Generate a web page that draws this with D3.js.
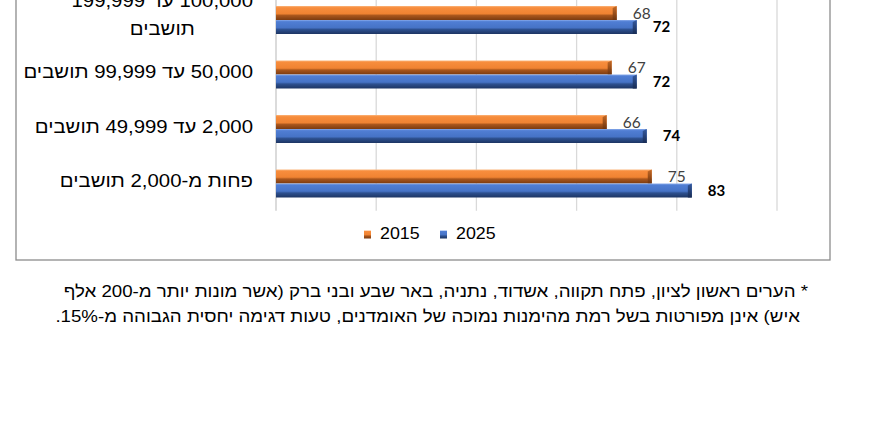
<!DOCTYPE html>
<html><head><meta charset="utf-8">
<script src="https://cdn.jsdelivr.net/npm/d3@7"></script>
<style>
html,body{margin:0;padding:0;background:#fff;}
svg{display:block;}
</style></head>
<body>
<svg id="chart" width="870" height="423"></svg>
<script>
// ---- data ----
const categories = [
  ["100,000 עד 199,999", "תושבים"],
  ["50,000 עד 99,999 תושבים"],
  ["2,000 עד 49,999 תושבים"],
  ["פחות מ-2,000 תושבים"]
];
const years = ["2015", "2025"];
const values2015 = [68, 67, 66, 75];
const values2025 = [72, 72, 74, 83];
const xTicks = [0, 20, 40, 60, 80, 100];
const footnote = [
  "* הערים ראשון לציון, פתח תקווה, אשדוד, נתניה, באר שבע ובני ברק (אשר מונות יותר מ-200 אלף",
  "איש) אינן מפורטות בשל רמת מהימנות נמוכה של האומדנים, טעות דגימה יחסית הגבוהה מ-15%."
];

const svg = d3.select("#chart");
const defs = svg.append("defs");
const grads = {
  "2015": [["0%","#fbb57c"],["12%","#f78d3d"],["55%","#f08332"],["68%","#a9561c"],["100%","#7c3b10"]],
  "2025": [["0%","#88aaea"],["12%","#507ed4"],["55%","#4673c6"],["68%","#2d508f"],["100%","#1d3563"]]
};
Object.entries(grads).forEach(([k, stops]) => {
  const g = defs.append("linearGradient").attr("id","g"+k).attr("x1",0).attr("y1",0).attr("x2",0).attr("y2",1);
  stops.forEach(s => g.append("stop").attr("offset", s[0]).attr("stop-color", s[1]));
});
const caps = {"2015":["#c56a26","#6e340e"], "2025":["#34599e","#182c55"]};
Object.entries(caps).forEach(([k, c]) => {
  const g = defs.append("linearGradient").attr("id","c"+k).attr("x1",0).attr("y1",0).attr("x2",0).attr("y2",1);
  g.append("stop").attr("offset","0%").attr("stop-color",c[0]);
  g.append("stop").attr("offset","100%").attr("stop-color",c[1]);
});

const x = d3.scaleLinear().domain([0, 100]).range([276, 777]);
const catKeys = categories.map(c => c.join(" "));
const y = d3.scaleBand().domain(catKeys).range([-7.25, 210.75]).padding(0);
const barH = 14;
const ySub = d3.scaleBand().domain(years)
  .range([y.bandwidth()/2 - barH, y.bandwidth()/2 + barH]);

// frame
svg.append("rect").attr("x", 16).attr("y", -5).attr("width", 814).attr("height", 265)
  .attr("fill", "none").attr("stroke", "#8c8c8c").attr("stroke-width", 1.3);

// gridlines
svg.append("g").selectAll("line").data(xTicks).join("line")
  .attr("x1", d => x(d)).attr("x2", d => x(d))
  .attr("y1", -10).attr("y2", 210.75)
  .attr("stroke", d => d === 0 ? "#c8c8c8" : "#d9d9d9").attr("stroke-width", 1.3);

// bars
const series = [
  {year: "2015", vals: values2015},
  {year: "2025", vals: values2025}
];
series.forEach(s => {
  const g = svg.append("g");
  s.vals.forEach((v, i) => {
    const y0 = y(catKeys[i]) + ySub(s.year);
    g.append("rect").attr("x", x(0)).attr("y", y0)
      .attr("width", x(v) - x(0)).attr("height", ySub.bandwidth())
      .attr("fill", "url(#g" + s.year + ")");
    g.append("path")
      .attr("d", `M${x(v)-4},${y0+2}L${x(v)},${y0}L${x(v)},${y0+ySub.bandwidth()}L${x(v)-4},${y0+ySub.bandwidth()}Z`)
      .attr("fill", "url(#c" + s.year + ")");
    g.append("text")
      .attr("x", x(v) + 16)
      .attr("y", y0 + ySub.bandwidth()/2)
      .attr("dy", "0.36em")
      .attr("font-family", "Lato, 'Open Sans', sans-serif")
      .attr("font-size", s.year === "2015" ? 15.5 : 15)
      .attr("font-weight", s.year === "2015" ? "normal" : "bold")
      .attr("fill", s.year === "2015" ? "#404040" : "#000")
      .text(v);
  });
});

// category labels (slightly widened, as in the reference)
const labelRight = 253;
const stretch = 1.1;
categories.forEach((lines, i) => {
  const cy = y(catKeys[i]) + y.bandwidth()/2;
  const g = svg.append("g").attr("transform", `translate(${labelRight},0) scale(${stretch},1)`);
  const t = g.append("text")
    .attr("font-family", "'Liberation Sans', Arial, sans-serif")
    .attr("font-size", 18.5).attr("fill", "#000")
    .attr("direction", "rtl").style("unicode-bidi", "embed");
  if (lines.length === 1) {
    t.attr("x", 0).attr("y", cy + 4).attr("text-anchor", "start").text(lines[0]);
  } else {
    const spans = lines.map((ln, j) => t.append("tspan").attr("y", cy - 13 + j * 28).text(ln));
    t.attr("text-anchor", "middle");
    const w = d3.max(spans.map(s => s.node().getComputedTextLength()));
    spans.forEach(s => s.attr("x", -w / 2));
  }
});

// legend
const legend = [{year:"2015", x:364}, {year:"2025", x:440}];
legend.forEach(l => {
  svg.append("rect").attr("x", l.x).attr("y", 230.5).attr("width", 7).attr("height", 8)
    .attr("fill", "url(#g" + l.year + ")");
  svg.append("g").attr("transform", `translate(${l.x + 16},238.5) scale(1.08,1)`)
    .append("text").attr("x", 0).attr("y", 0)
    .attr("font-family", "'Liberation Sans', Arial, sans-serif")
    .attr("font-size", 16.5).attr("fill", "#000").text(l.year);
});

// footnote
const fnRight = [808, 800];
footnote.forEach((ln, i) => {
  svg.append("g").attr("transform", `translate(${fnRight[i]},${297 + i * 25}) scale(${stretch},1)`)
    .append("text").attr("x", 0).attr("y", 0)
    .attr("font-family", "'Liberation Sans', Arial, sans-serif")
    .attr("font-size", 17).attr("fill", "#000")
    .attr("direction", "rtl").style("unicode-bidi", "embed")
    .attr("text-anchor", "start").text(ln);
});
</script>
</body></html>
